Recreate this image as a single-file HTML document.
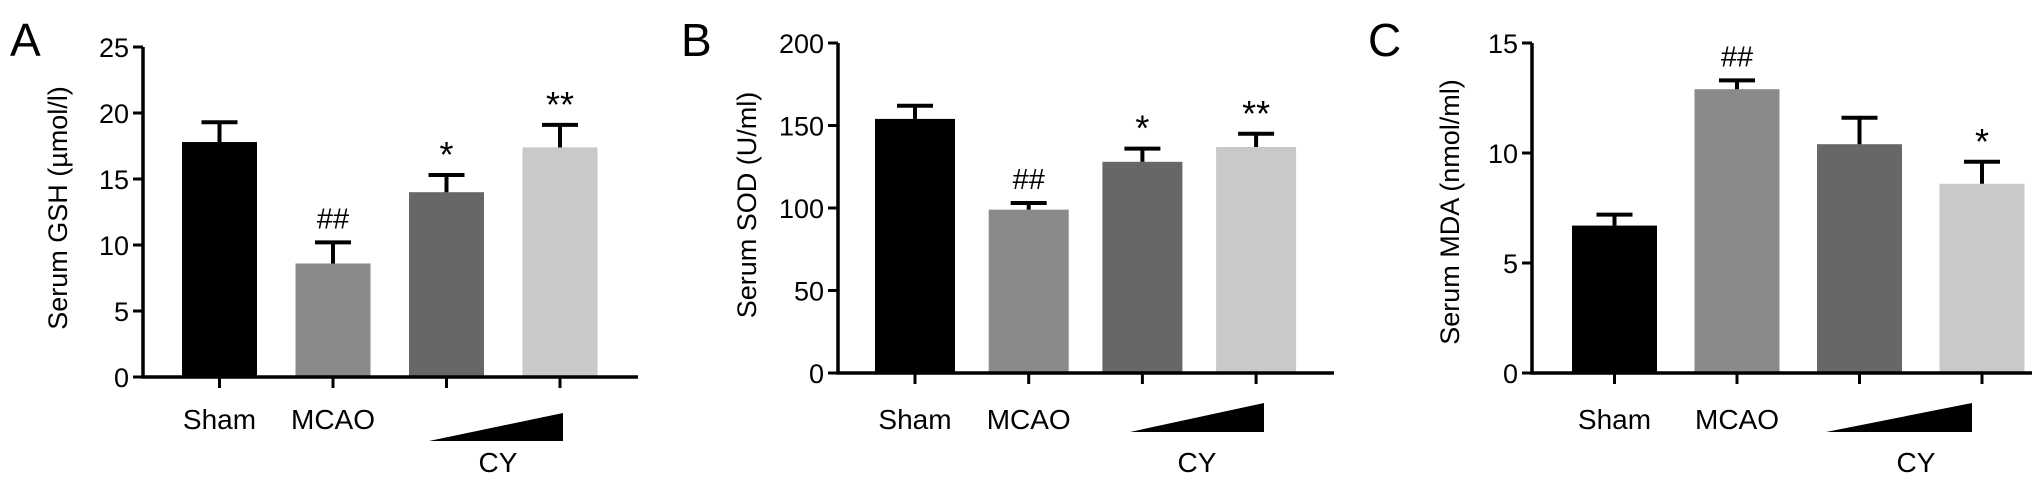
<!DOCTYPE html>
<html><head><meta charset="utf-8"><style>
html,body{margin:0;padding:0;background:#fff;}
svg{display:block;font-family:"Liberation Sans",Arial,sans-serif;}
</style></head><body>
<svg id="fig" width="2032" height="488" viewBox="0 0 2032 488" xmlns="http://www.w3.org/2000/svg"></svg>
<script>
const categories = ["Sham", "MCAO", "CY low", "CY high"];
const gshValues = [17.8, 8.6, 14.0, 17.4];
const gshErrors = [1.5, 1.6, 1.3, 1.7];
const sodValues = [154, 99, 128, 137];
const sodErrors = [8, 4, 8, 8];
const mdaValues = [6.7, 12.9, 10.4, 8.6];
const mdaErrors = [0.5, 0.4, 1.2, 1.0];
const gshTicks = [0, 5, 10, 15, 20, 25];
const sodTicks = [0, 50, 100, 150, 200];
const mdaTicks = [0, 5, 10, 15];
const gshMarks = ["", "##", "*", "**"];
const sodMarks = ["", "##", "*", "**"];
const mdaMarks = ["", "##", "", "*"];

const NS = "http://www.w3.org/2000/svg";
const svg = document.getElementById("fig");
const colors = ["#000000", "#8a8a8a", "#676767", "#c9c9c9"];
function el(tag, attrs, parent, text) {
  const e = document.createElementNS(NS, tag);
  for (const k in attrs) e.setAttribute(k, attrs[k]);
  if (text !== undefined) e.textContent = text;
  (parent || svg).appendChild(e);
  return e;
}
function panel(cfg) {
  const g = el("g", {});
  
  
  const ticks = cfg.ticks, max = ticks[ticks.length - 1];
  const y = v => cfg.y0 - (v / max) * (cfg.y0 - cfg.yTop);
  const x = i => cfg.first + i * cfg.pitch;
  const lbl = el("text", {x: cfg.lx, y: 56, "font-size": 46}, g, cfg.letter);
  
  
  const yt = el("text", {x: 0, y: 0, "font-size": 27, "text-anchor": "middle", transform: `translate(${cfg.tx},${cfg.ty}) rotate(-90)`}, g, cfg.title);
  
  
  cfg.values.forEach((v, i) => {
    const cx = x(i);
    const bar = el("rect", {x: cx - cfg.w / 2, y: y(v), width: cfg.w, height: cfg.y0 - y(v), fill: colors[i]}, g);
    
    
    const top = y(v + cfg.errors[i]);
    const eb = el("path", {d: `M${cx} ${y(v)}V${top}M${cx - 18} ${top}H${cx + 18}`, stroke: "#000", "stroke-width": 4, fill: "none"}, g);
    
    
    if (cfg.marks[i]) {
      const isHash = cfg.marks[i][0] === "#";
      const m = el("text", {x: cx, y: top - (isHash ? 14 : 8), "font-size": isHash ? 29 : 36, "text-anchor": "middle"}, g, cfg.marks[i]);
      
      
    }
    const tk = el("line", {x1: cx, x2: cx, y1: cfg.y0, y2: cfg.y0 + 11, stroke: "#000", "stroke-width": 3}, g);
    
    
  });
  const ax = el("path", {d: `M${cfg.axisX} ${cfg.yTop}V${cfg.y0}H${cfg.axisEnd}`, stroke: "#000", "stroke-width": 3.5, fill: "none"}, g);
  
  
  ticks.forEach(t => {
    const tl = el("line", {x1: cfg.axisX - 10, x2: cfg.axisX, y1: y(t), y2: y(t), stroke: "#000", "stroke-width": 3}, g);
    
    
    const tt = el("text", {x: cfg.axisX - 14, y: y(t) + 10, "font-size": 27, "text-anchor": "end"}, g, String(t));
    
    
  });
  ["Sham", "MCAO"].forEach((n, i) => {
    const t = el("text", {x: x(i), y: 429, "font-size": 28, "text-anchor": "middle"}, g, n);
    
    
  });
  const tri = el("polygon", {points: `${cfg.triL},${cfg.triB} ${cfg.triR},${cfg.triB} ${cfg.triR},${cfg.triT}`, fill: "#000"}, g);
  
  
  const cy = el("text", {x: cfg.cyX, y: 472, "font-size": 28, "text-anchor": "middle"}, g, "CY");
  
  
}
panel({id: "gsh", letter: "A", lx: 10, title: "Serum GSH (µmol/l)", tx: 67, ty: 208, ticks: gshTicks, values: gshValues, errors: gshErrors, marks: gshMarks,
  axisX: 143, axisEnd: 638, yTop: 47, y0: 377, first: 219.5, pitch: 113.5, w: 75, triL: 429, triR: 563, triB: 441, triT: 413, cyX: 498});
panel({id: "sod", letter: "B", lx: 681, title: "Serum SOD (U/ml)", tx: 756, ty: 205, ticks: sodTicks, values: sodValues, errors: sodErrors, marks: sodMarks,
  axisX: 838, axisEnd: 1334, yTop: 43, y0: 373, first: 915, pitch: 113.7, w: 80, triL: 1130, triR: 1264, triB: 432, triT: 403, cyX: 1197});
panel({id: "mda", letter: "C", lx: 1368, title: "Serum MDA (nmol/ml)", tx: 1459, ty: 212, ticks: mdaTicks, values: mdaValues, errors: mdaErrors, marks: mdaMarks,
  axisX: 1532, axisEnd: 2032, yTop: 43, y0: 373, first: 1614.5, pitch: 122.5, w: 85, triL: 1826, triR: 1972, triB: 432, triT: 403, cyX: 1916});
</script>
</body></html>
